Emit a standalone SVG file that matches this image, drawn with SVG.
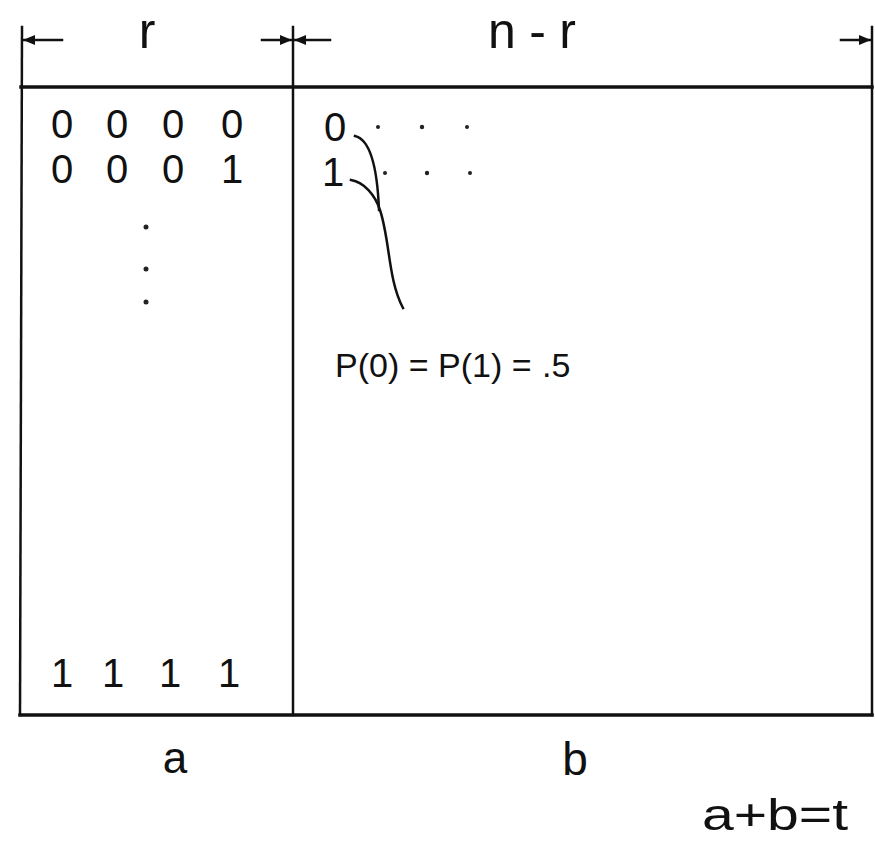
<svg xmlns="http://www.w3.org/2000/svg" width="875" height="854" viewBox="0 0 875 854">
<style>
.ln{stroke:#111;fill:none;stroke-linecap:square}
.t{font-family:"Liberation Sans","DejaVu Sans",sans-serif;fill:#111}
.d{font-size:40px;text-anchor:middle}
.dot{fill:#222}
</style>
<defs>
<marker id="ah" viewBox="0 0 12 10" refX="12" refY="5" markerWidth="12" markerHeight="10" markerUnits="userSpaceOnUse" orient="auto">
<path d="M0,0 L12,5 L0,10 Z" fill="#111"/>
</marker>
</defs>
<rect width="875" height="854" fill="#fff"/>
<g id="frame">
<line class="ln" x1="22" y1="27" x2="20" y2="715" stroke-width="2.5"/>
<line class="ln" x1="872" y1="27" x2="872" y2="715" stroke-width="2.5"/>
<line class="ln" x1="21" y1="87" x2="872" y2="87" stroke-width="3.5"/>
<line class="ln" x1="20" y1="715" x2="872" y2="715" stroke-width="3.5"/>
</g>
<g id="divider">
<line class="ln" x1="293" y1="27" x2="293" y2="715" stroke-width="2.5"/>
</g>
<g id="dimensions">
<line class="ln" x1="62" y1="40" x2="23" y2="40" stroke-width="2.5" marker-end="url(#ah)"/>
<line class="ln" x1="262" y1="40" x2="292" y2="40" stroke-width="2.5" marker-end="url(#ah)"/>
<line class="ln" x1="330" y1="40" x2="294" y2="40" stroke-width="2.5" marker-end="url(#ah)"/>
<line class="ln" x1="841" y1="40" x2="871" y2="40" stroke-width="2.5" marker-end="url(#ah)"/>
<text class="t" x="147" y="48" font-size="50" text-anchor="middle">r</text>
<text class="t" x="488" y="48" font-size="50" textLength="88" lengthAdjust="spacing">n-r</text>
</g>
<g id="block-a">
<text class="t d" x="62" y="138">0</text>
<text class="t d" x="117" y="138">0</text>
<text class="t d" x="173" y="138">0</text>
<text class="t d" x="232" y="138">0</text>
<text class="t d" x="62" y="183">0</text>
<text class="t d" x="117" y="183">0</text>
<text class="t d" x="173" y="183">0</text>
<text class="t d" x="232" y="183">1</text>
<circle class="dot" cx="146" cy="227" r="2.5"/>
<circle class="dot" cx="146" cy="269" r="2.5"/>
<circle class="dot" cx="146" cy="302" r="2.5"/>
<text class="t d" x="62" y="687">1</text>
<text class="t d" x="113" y="687">1</text>
<text class="t d" x="170" y="687">1</text>
<text class="t d" x="229" y="687">1</text>
</g>
<g id="block-b">
<text class="t d" x="335" y="141">0</text>
<text class="t d" x="333" y="186">1</text>
<circle class="dot" cx="378" cy="127" r="2"/>
<circle class="dot" cx="422" cy="127" r="2.2"/>
<circle class="dot" cx="467" cy="127" r="2"/>
<circle class="dot" cx="385" cy="173" r="2"/>
<circle class="dot" cx="427" cy="173" r="2.2"/>
<circle class="dot" cx="470" cy="173" r="2"/>
<text class="t" x="335" y="377" font-size="34">P(0) = P(1) =</text>
<text class="t" x="542" y="377" font-size="34">.5</text>
</g>
<g id="connectors">
<path class="ln" d="M355,136 C368,139 377,160 379,210" stroke-width="2.5"/>
<path class="ln" d="M351,180 C364,182 375,195 380,210 C390,240 388,280 403,308" stroke-width="2.5"/>
</g>
<g id="labels">
<text class="t" x="175" y="773" font-size="44" text-anchor="middle">a</text>
<text class="t" x="575" y="775" font-size="46" text-anchor="middle">b</text>
<text class="t" x="702" y="830" font-size="44" textLength="146" lengthAdjust="spacingAndGlyphs">a+b=t</text>
</g>
</svg>
